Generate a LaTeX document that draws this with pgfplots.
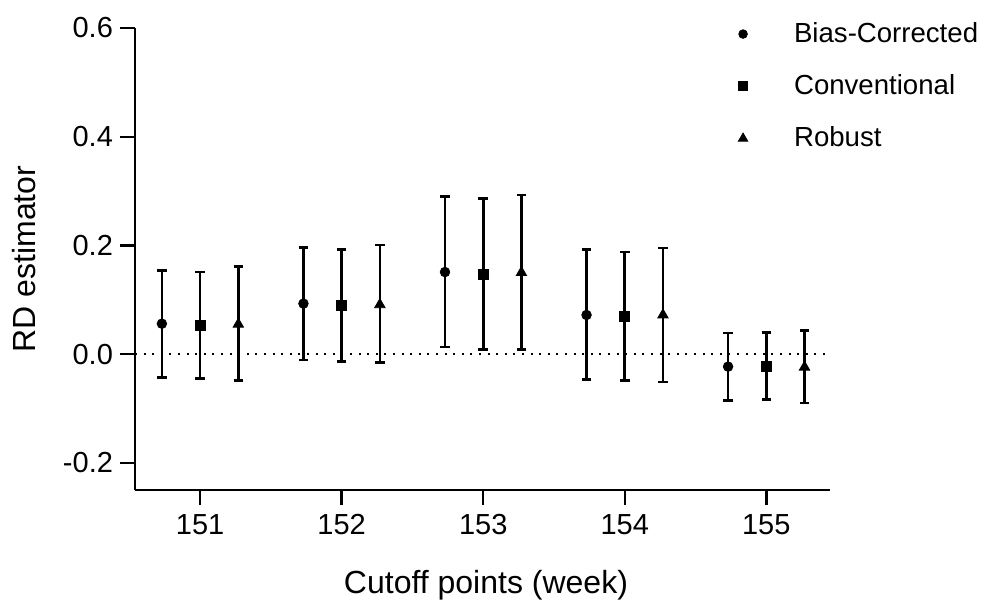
\documentclass[border=0pt]{standalone}
\usepackage{fontspec}
\setmainfont{Liberation Sans}
\usepackage{pgfplots}
\usepackage{pgfplotstable}
\pgfplotsset{compat=1.18}

% estimate, lower and upper bound for each cutoff
\pgfplotstableread{
x      y       lo      hi
150.73 0.056  -0.043   0.154
151.73 0.093  -0.011   0.196
152.73 0.151   0.013   0.290
153.73 0.072  -0.047   0.192
154.73 -0.023 -0.085   0.039
}\biascorr
\pgfplotstableread{
x      y       lo      hi
151    0.053  -0.045   0.151
152    0.090  -0.014   0.193
153    0.147   0.009   0.286
154    0.069  -0.049   0.188
155    -0.022 -0.084   0.040
}\conv
\pgfplotstableread{
x      y       lo      hi
151.27 0.055  -0.049   0.161
152.27 0.091  -0.015   0.201
153.27 0.150   0.009   0.293
154.27 0.072  -0.051   0.195
155.27 -0.024 -0.090   0.043
}\robust

\pgfplotsset{ci/.style={only marks,black,
  error bars/y dir=both,error bars/y explicit,
  error bars/error bar style={line width=1.3pt,black,solid},
  error bars/error mark options={rotate=90,mark size=2.4pt,line width=1.3pt,black}}}

\begin{document}
\begin{tikzpicture}
\path[use as bounding box] (-67.5pt,-55.5pt) rectangle (425pt,245pt);
\begin{axis}[at={(0,0)},anchor=south west,
  scale only axis,width=347.5pt,height=231pt,
  xmin=150.54,xmax=155.45,ymin=-0.25,ymax=0.6,
  axis lines=left,axis line style={-,line width=1.2pt},
  tick align=outside,major tick length=7.5pt,
  tick style={line width=1.2pt,black},
  xtick={151,152,153,154,155},ytick={-0.2,0,0.2,0.4,0.6},
  /pgf/number format/assume math mode=true,
  yticklabel style={/pgf/number format/fixed,/pgf/number format/fixed zerofill,/pgf/number format/precision=1},
  xticklabel style={/pgf/number format/1000 sep={},yshift=-1pt},
  tick label style={font=\fontsize{14.5}{17}\selectfont},
  label style={font=\fontsize{16}{19}\selectfont},
  xlabel={Cutoff points (week)},ylabel={RD estimator},
  xlabel style={at={(axis description cs:0.505,-0.206)},anchor=center},
  ylabel style={at={(axis description cs:-0.16,0.5)},anchor=center},
  clip=false,
  legend style={at={(axis description cs:0.859,1.030)},anchor=north west,
    draw=none,fill=none,font=\fontsize{13.8}{16}\selectfont,row sep=10.6pt},
  legend cell align=left,
  legend image code/.code={\draw[#1,mark options={scale=0.9}] plot coordinates {(0pt,0pt)};
    \path[draw=none,fill=none] (0pt,0pt) -- (23.5pt,0pt);},
]
\addplot[forget plot,line width=1pt,dash pattern=on 1pt off 3.3pt] coordinates {(150.54,0)(155.45,0)};
\addplot[ci,mark=*,mark size=2.4pt]
  table[x=x,y=y,y error plus expr=\thisrow{hi}-\thisrow{y},y error minus expr=\thisrow{y}-\thisrow{lo}] {\biascorr};
\addlegendentry{Bias-Corrected}
\addplot[ci,mark=square*,mark size=2.5pt]
  table[x=x,y=y,y error plus expr=\thisrow{hi}-\thisrow{y},y error minus expr=\thisrow{y}-\thisrow{lo}] {\conv};
\addlegendentry{Conventional}
\addplot[ci,mark=triangle*,mark size=3pt]
  table[x=x,y=y,y error plus expr=\thisrow{hi}-\thisrow{y},y error minus expr=\thisrow{y}-\thisrow{lo}] {\robust};
\addlegendentry{Robust}
\end{axis}
\end{tikzpicture}
\end{document}
